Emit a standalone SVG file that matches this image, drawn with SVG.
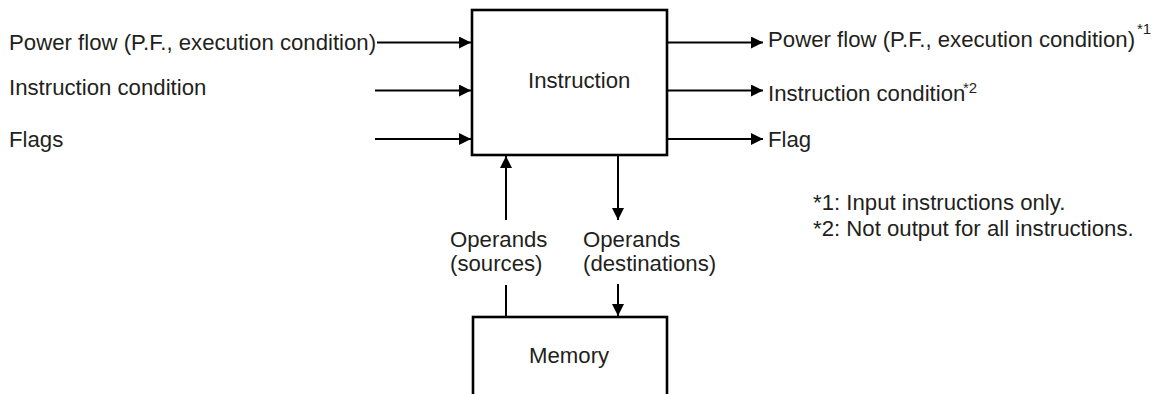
<svg xmlns="http://www.w3.org/2000/svg" width="1152" height="394" viewBox="0 0 1152 394">
<style>
text{font-family:"Liberation Sans",Arial,sans-serif;font-size:22.2px;fill:#231f20}
.sup{font-size:15px}
.box{fill:#fff;stroke:#000;stroke-width:2.6}
.ln{stroke:#000;stroke-width:2;fill:none}
</style>
<defs>
<marker id="ah" viewBox="0 0 12 12" refX="12" refY="6" markerWidth="12" markerHeight="12" markerUnits="userSpaceOnUse" orient="auto"><path d="M0,0 L12,6 L0,12 z" fill="#000"/></marker>
</defs>
<rect width="1152" height="394" fill="#fff"/>
<g id="instruction">
<rect class="box" x="472" y="10" width="195" height="145"/>
<text x="528" y="88">Instruction</text>
</g>
<g id="memory">
<rect class="box" x="473" y="317" width="194" height="100"/>
<text x="529" y="363">Memory</text>
</g>
<g id="inputs">
<text x="9" y="50">Power flow (P.F., execution condition)</text>
<text x="9" y="95">Instruction condition</text>
<text x="9" y="147">Flags</text>
</g>
<g id="outputs">
<text x="768" y="47">Power flow (P.F., execution condition)</text>
<text class="sup" x="1137" y="34">*1</text>
<text x="768" y="101">Instruction condition</text>
<text class="sup" x="963" y="93">*2</text>
<text x="768" y="147">Flag</text>
</g>
<g id="operand-labels">
<text x="450" y="247">Operands</text>
<text x="450" y="271">(sources)</text>
<text x="583" y="247">Operands</text>
<text x="583" y="271">(destinations)</text>
</g>
<g id="notes">
<text x="813" y="210">*1: Input instructions only.</text>
<text x="813" y="236">*2: Not output for all instructions.</text>
</g>
<g id="connectors">
<line class="ln" x1="377" y1="42.5" x2="471" y2="42.5" marker-end="url(#ah)"/>
<line class="ln" x1="375" y1="90.5" x2="471" y2="90.5" marker-end="url(#ah)"/>
<line class="ln" x1="375" y1="139" x2="471" y2="139" marker-end="url(#ah)"/>
<line class="ln" x1="668" y1="42.5" x2="763" y2="42.5" marker-end="url(#ah)"/>
<line class="ln" x1="668" y1="90.5" x2="763" y2="90.5" marker-end="url(#ah)"/>
<line class="ln" x1="668" y1="139" x2="763" y2="139" marker-end="url(#ah)"/>
<line class="ln" x1="506" y1="220" x2="506" y2="156" marker-end="url(#ah)"/>
<line class="ln" x1="506" y1="285" x2="506" y2="316"/>
<line class="ln" x1="618" y1="156" x2="618" y2="220" marker-end="url(#ah)"/>
<line class="ln" x1="618" y1="284" x2="618" y2="316" marker-end="url(#ah)"/>
</g>
</svg>
